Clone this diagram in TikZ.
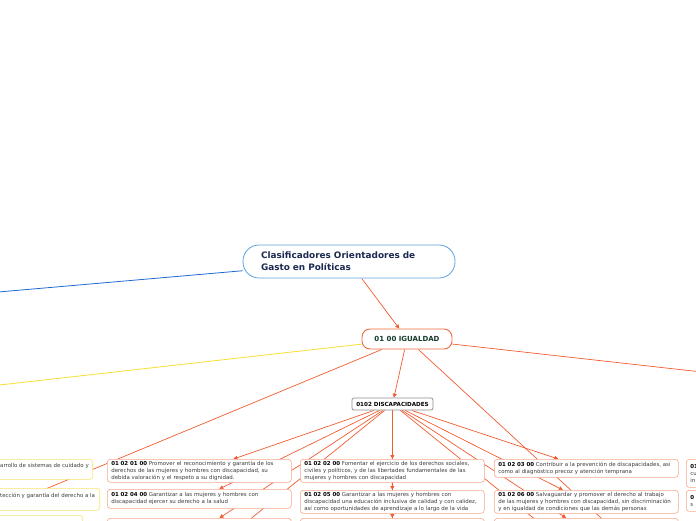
\documentclass[tikz,border=0pt]{standalone}
\usepackage{fontspec}
\setmainfont{DejaVu Sans}
\usetikzlibrary{arrows.meta,calc}
\definecolor{org}{RGB}{242,92,48}
\definecolor{igorg}{RGB}{240,105,60}
\definecolor{cbord}{RGB}{246,168,140}
\definecolor{ybord}{RGB}{248,228,110}
\definecolor{yline}{RGB}{247,222,50}
\definecolor{bline}{RGB}{30,105,210}
\definecolor{tbord}{RGB}{95,160,225}
\definecolor{navy}{RGB}{28,42,82}
\definecolor{dkgreen}{RGB}{22,60,42}
\definecolor{txt}{RGB}{60,60,60}
\pgfdeclarelayer{bg}
\pgfsetlayers{bg,main}
\newcommand\kl[1]{\mbox{#1}}
\newcommand\kc[1]{\textbf{\textcolor{black}{#1}}}
\begin{document}
\begin{tikzpicture}[x=1pt,y=-1pt,
  titlebox/.style={draw=tbord,line width=0.8pt,fill=white,rounded corners=16pt,
    minimum width=212pt,minimum height=33pt,text width=176pt,align=left,inner sep=0pt,
    font=\bfseries\fontsize{8.9}{12}\selectfont,text=navy},
  igbox/.style={draw=igorg,line width=0.9pt,fill=white,rounded corners=8pt,
    minimum width=90pt,minimum height=20pt,inner sep=0pt,
    font=\bfseries\fontsize{7}{8}\selectfont,text=dkgreen},
  discbox/.style={draw=black!45,line width=0.7pt,fill=white,rounded corners=2pt,
    minimum width=81pt,minimum height=12pt,inner sep=0pt,
    font=\bfseries\fontsize{5.6}{6}\selectfont,text=black},
  kidbox/.style={draw=cbord,line width=0.6pt,fill=white,rounded corners=3pt,
    anchor=north west,text width=176pt,inner xsep=4pt,inner ysep=0pt,align=left,
    minimum height=#1,font=\fontsize{5.45}{7}\selectfont,text=txt},
  ybox/.style={draw=ybord,line width=0.6pt,fill=white,rounded corners=3pt,
    anchor=north east,minimum width=160pt,minimum height=#1,inner sep=0pt},
  rbox/.style={draw=cbord,line width=0.6pt,fill=white,rounded corners=3pt,
    anchor=north west,text width=170pt,inner xsep=4pt,inner ysep=0pt,align=left,
    minimum height=#1,font=\fontsize{5.45}{7}\selectfont,text=txt},
  ytext/.style={anchor=base west,inner sep=0pt,font=\fontsize{5.45}{7}\selectfont,text=txt},
  conn/.style={draw=org,line width=0.7pt,-{Triangle[length=4pt,width=4pt]}},
]
\useasboundingbox (0,0) rectangle (696,520);
\clip (0,0) rectangle (696,520);

% main nodes
\node[titlebox] (title) at (349,261.5) {Clasificadores Orientadores de\\Gasto en Políticas};
\node[igbox] (igu) at (407,339) {01 00 IGUALDAD};
\node[discbox] (disc) at (392.5,404) {0102 DISCAPACIDADES};

% children row 1
\node[kidbox=23pt] (k1) at (107,459) {\kl{\kc{01 02 01 00} Promover el reconocimiento y garantía de los}\\\kl{derechos de las mujeres y hombres con discapacidad, su}\\\kl{debida valoración y el respeto a su dignidad.}};
\node[kidbox=23pt] (k2) at (300,459) {\kl{\kc{01 02 02 00} Fomentar el ejercicio de los derechos sociales,}\\\kl{civiles y políticos, y de las libertades fundamentales de las}\\\kl{mujeres y hombres con discapacidad}};
\node[kidbox=18pt] (k3) at (494,459) {\kl{\kc{01 02 03 00} Contribuir a la prevención de discapacidades, así}\\\kl{como al diagnóstico precoz y atención temprana}};
% row 2
\node[kidbox=19pt] (k4) at (107,489) {\kl{\kc{01 02 04 00} Garantizar a las mujeres y hombres con}\\\kl{discapacidad ejercer su derecho a la salud}};
\node[kidbox=23pt] (k5) at (300,490) {\kl{\kc{01 02 05 00} Garantizar a las mujeres y hombres con}\\\kl{discapacidad una educación inclusiva de calidad y con calidez,}\\\kl{así como oportunidades de aprendizaje a lo largo de la vida}};
\node[kidbox=23pt] (k6) at (494,490) {\kl{\kc{01 02 06 00} Salvaguardar y promover el derecho al trabajo}\\\kl{de las mujeres y hombres con discapacidad, sin discriminación}\\\kl{y en igualdad de condiciones que las demás personas}};
% row 3 (cut by the lower edge)
\node[kidbox=26pt] (k7) at (107,518) {};
\node[kidbox=26pt] (k8) at (300,518) {};
\node[kidbox=26pt] (k9) at (494,518) {};
% row 4 centres (off the picture)
\coordinate (r4a) at (198.5,561);
\coordinate (r4b) at (392.5,561);
\coordinate (r4c) at (586.5,561);

% left boxes (yellow branch)
\node[ybox=20pt] (y1) at (93,459) {};
\node[ytext] (y1t) at (0,467.5) {arrollo de sistemas de cuidado y};
\node[ybox=22pt] (y2) at (100,488) {};
\node[ytext] (y2t) at (0,497.5) {tección y garantía del derecho a la};
\node[ybox=20pt] (y3) at (83,515) {};

% right boxes (cut by the right edge)
\node[rbox=28pt] (q1) at (686,459) {\kc{01}\\cu\\in};
\node[rbox=21pt] (q2) at (686,490) {\kc{0}\\s};

% free ends
\coordinate (bl) at (-50,296.2);
\coordinate (yl) at (-50,390.6);
\coordinate (ol) at (-40,524.5);
\coordinate (od) at (690,600);
\coordinate (orr) at (800,383);

\begin{pgfonlayer}{bg}
\draw[draw=bline,line width=0.8pt] (title) -- (bl);
\draw[conn] (title) -- (igu);
\draw[draw=yline,line width=0.8pt] (igu) -- (yl);
\draw[conn] (igu) -- (ol);
\draw[conn] (igu) -- (od);
\draw[conn] (igu) -- (orr);
\draw[conn] (igu) -- (disc);
\foreach \k in {k1,k2,k3,k4,k5,k6,k7,k8,k9,r4a,r4b,r4c}
  \draw[conn] (disc) -- (\k);
\end{pgfonlayer}
\end{tikzpicture}
\end{document}
